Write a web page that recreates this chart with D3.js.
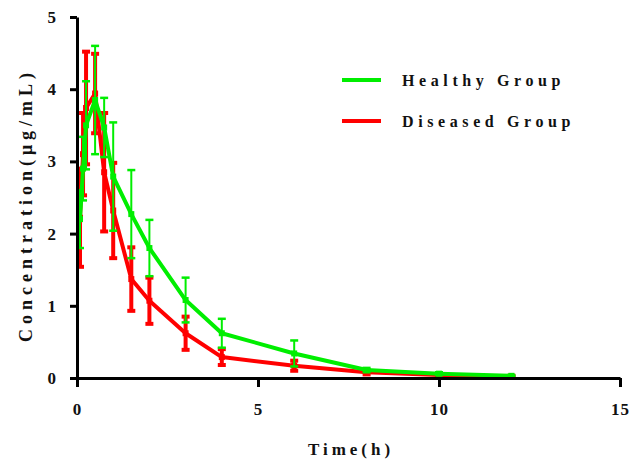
<!DOCTYPE html>
<meta charset="utf-8">
<script src="https://d3js.org/d3.v7.min.js"></script>
<style>
body { margin: 0; background: #fff; }
text { font-family: "Liberation Serif", "Times New Roman", serif; font-weight: bold; fill: #111; }
.tick text { font-size: 17px; letter-spacing: 1px; }
.axis path, .axis line { stroke: #000; stroke-width: 3; }
.title { font-size: 18px; letter-spacing: 5px; }
.xtitle { font-size: 17px; letter-spacing: 4px; }
.legend text { font-size: 16px; letter-spacing: 4.6px; }
</style>
<div id="chart"></div>
<script>
// sampling times (h)
var times = [0.083, 0.167, 0.25, 0.5, 0.75, 1, 1.5, 2, 3, 4, 6, 8, 10, 12];
var healthyMean = [2.20, 2.90, 3.50, 3.85, 3.47, 2.79, 2.27, 1.80, 1.08, 0.62, 0.34, 0.11, 0.06, 0.03];
var healthySD   = [0.40, 0.44, 0.61, 0.75, 0.41, 0.75, 0.61, 0.39, 0.31, 0.20, 0.18, 0.03, 0.02, 0.01];
var diseasedMean = [2.22, 3.10, 3.74, 3.94, 2.85, 2.32, 1.37, 1.07, 0.62, 0.29, 0.17, 0.08, 0.04, 0.02];
var diseasedSD   = [0.68, 0.57, 0.78, 0.55, 0.82, 0.66, 0.44, 0.32, 0.23, 0.11, 0.07, 0.03, 0.02, 0.01];
var xTicks = [0, 5, 10, 15];
var yTicks = [0, 1, 2, 3, 4, 5];

var margin = {top: 17, right: 10, bottom: 81, left: 77},
    width = 630 - margin.left - margin.right,
    height = 459 - margin.top - margin.bottom;

var svg = d3.select("#chart").append("svg")
    .attr("width", 630).attr("height", 459)
  .append("g")
    .attr("transform", "translate(" + margin.left + "," + margin.top + ")");

var x = d3.scaleLinear().domain([0, 15]).range([0, 543]);
var y = d3.scaleLinear().domain([0, 5]).range([height, 0]);

var series = [
  {name: "Healthy Group", color: "#00ee00", mean: healthyMean, sd: healthySD, barW: 2, capW: 2.5},
  {name: "Diseased Group", color: "#ff0000", mean: diseasedMean, sd: diseasedSD, barW: 4, capW: 4}
];

// draw diseased first so healthy sits on top
series.slice().reverse().forEach(function(s) {
  var pts = times.map(function(t, i) { return {t: t, m: s.mean[i], sd: s.sd[i]}; });
  var g = svg.append("g");

  g.selectAll(".err").data(pts).enter().append("line")
    .attr("x1", d => x(d.t)).attr("x2", d => x(d.t))
    .attr("y1", d => y(d.m + d.sd)).attr("y2", d => y(Math.max(0, d.m - d.sd)))
    .attr("stroke", s.color).attr("stroke-width", s.barW);

  [1, -1].forEach(function(sign) {
    g.selectAll(".cap" + sign).data(pts).enter().append("line")
      .attr("x1", d => x(d.t) - 4).attr("x2", d => x(d.t) + 4)
      .attr("y1", d => y(Math.max(0, d.m + sign * d.sd)))
      .attr("y2", d => y(Math.max(0, d.m + sign * d.sd)))
      .attr("stroke", s.color).attr("stroke-width", s.capW);
  });

  g.append("path").datum(pts)
    .attr("fill", "none").attr("stroke", s.color).attr("stroke-width", 4)
    .attr("stroke-linejoin", "round")
    .attr("d", d3.line().x(d => x(d.t)).y(d => y(d.m)));

  g.selectAll(".pt").data(pts).enter().append("rect")
    .attr("x", d => x(d.t) - 3).attr("y", d => y(d.m) - 3)
    .attr("width", 6).attr("height", 6).attr("fill", s.color);
});

// axes
svg.append("g").attr("class", "axis")
  .attr("transform", "translate(0," + height + ")")
  .call(d3.axisBottom(x).tickValues(xTicks).tickSize(9).tickPadding(13).tickSizeOuter(0))
  .call(g => g.selectAll(".tick text").attr("dy", "0.9em"));

svg.append("g").attr("class", "axis")
  .call(d3.axisLeft(y).tickValues(yTicks).tickFormat(d3.format("d"))
    .tickSize(7).tickPadding(13).tickSizeOuter(0));

// axis titles
svg.append("text").attr("class", "xtitle")
  .attr("x", 274).attr("y", height + 77)
  .attr("text-anchor", "middle").text("Time(h)");

svg.append("text").attr("class", "title")
  .attr("transform", "translate(-45," + 188 + ") rotate(-90)")
  .attr("text-anchor", "middle").text("Concentration(μg/mL)");

// legend
var legend = svg.append("g").attr("class", "legend")
  .attr("transform", "translate(265,63)");
legend.selectAll("line").data(series).enter().append("line")
  .attr("x1", 0).attr("x2", 39)
  .attr("y1", (d, i) => i * 41).attr("y2", (d, i) => i * 41)
  .attr("stroke", d => d.color).attr("stroke-width", 4);
legend.selectAll("text").data(series).enter().append("text")
  .attr("x", 60).attr("y", (d, i) => i * 41 + 6)
  .text(d => d.name);
</script>
